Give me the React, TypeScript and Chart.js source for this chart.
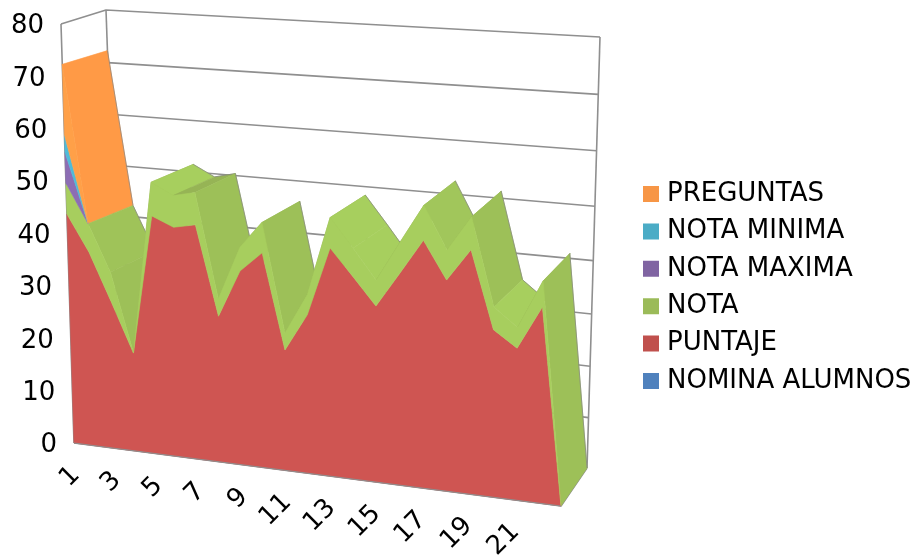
import React, { useEffect, useRef } from "react";
import { Chart, registerables } from "chart.js";

Chart.register(...registerables);

const CATEGORIES = ["1","2","3","4","5","6","7","8","9","10","11","12","13","14","15","16","17","18","19","20","21","22","23"];
const NOMINA_ALUMNOS = [0,0,0,0,0,0,0,0,0,0,0,0,0,0,0,0,0,0,0,0,0,0,0];
const PUNTAJE = [43.7,36.9,27.9,18.6,45.1,43.4,44.3,27.5,36.5,40.4,22.6,29.7,42.7,37.8,32.8,39.3,46,39.1,45.2,30.9,28,36.1,0];
const NOTA = [5.9,5.4,5.6,0.1,6.4,6,6.1,3.3,4.5,5.7,3.2,3.8,5.7,5.3,4.8,5.8,6.5,5.6,6.1,4.2,3.8,4.8,0];
const NOTA_MAXIMA = [5.9,0,0,0,0,0,0,0,0,0,0,0,0,0,0,0,0,0,0,0,0,0,0];
const NOTA_MINIMA = [3.3,0,0,0,0,0,0,0,0,0,0,0,0,0,0,0,0,0,0,0,0,0,0];
const PREGUNTAS = [13.5,0,0,0,0,0,0,0,0,0,0,0,0,0,0,0,0,0,0,0,0,0,0];

const FONT = "'DejaVu Sans'";
const FONT_SIZE = 26;
const GREY = "#8f8f8f";

// legend colour, then the lit colour of the same series on the front face
const SERIES: [string, number[], string, string][] = [
  ["NOMINA ALUMNOS", NOMINA_ALUMNOS, "#4F81BD", "#5A8FD0"],
  ["PUNTAJE", PUNTAJE, "#C0504D", "#CF5552"],
  ["NOTA", NOTA, "#9BBB59", "#A7CE5E"],
  ["NOTA MAXIMA", NOTA_MAXIMA, "#8064A2", "#8C6DB4"],
  ["NOTA MINIMA", NOTA_MINIMA, "#4BACC6", "#4FBBD8"],
  ["PREGUNTAS", PREGUNTAS, "#F79646", "#FFA048"],
];

// corners of the 3D box in the picture: [front|back][bottom|top][left|right]
type P = [number, number];
const FBL: P = [74, 443], FBR: P = [561, 506], FTL: P = [61, 24], FTR: P = [574, 71];
const BBL: P = [120, 405], BBR: P = [587, 468], BTL: P = [106, 10], BTR: P = [600, 37];
const lerp = (a: P, b: P, t: number): P => [a[0] + (b[0] - a[0]) * t, a[1] + (b[1] - a[1]) * t];

function project(u: number, v: number, d: number): P {
  const uu = u - 0.082 * u * (1 - u);
  const vv = v - d * 0.075 * v * (1 - v);
  const front = lerp(lerp(FBL, FBR, uu), lerp(FTL, FTR, uu), vv);
  const back = lerp(lerp(BBL, BBR, uu), lerp(BTL, BTR, uu), vv);
  return lerp(front, back, d);
}

function mix(a: number[], b: number[], t: number) {
  const c = a.map((x, i) => Math.round(x + (b[i] - x) * t));
  return `rgb(${c[0]},${c[1]},${c[2]})`;
}

function poly(ctx: CanvasRenderingContext2D, pts: P[], color: string) {
  ctx.beginPath();
  pts.forEach((p, i) => (i ? ctx.lineTo(p[0], p[1]) : ctx.moveTo(p[0], p[1])));
  ctx.closePath();
  ctx.fillStyle = color;
  ctx.strokeStyle = color;
  ctx.lineWidth = 0.6;
  ctx.fill();
  ctx.stroke();
}

function line(ctx: CanvasRenderingContext2D, pts: P[], color = GREY, w = 1.6) {
  ctx.beginPath();
  pts.forEach((p, i) => (i ? ctx.lineTo(p[0], p[1]) : ctx.moveTo(p[0], p[1])));
  ctx.strokeStyle = color;
  ctx.lineWidth = w;
  ctx.stroke();
}

const boxPlugin = {
  id: "box3d",
  afterLayout(chart: any) {
    const lg = chart.legend;
    lg.left = 648 - lg.options.labels.padding;
    lg.right = 917;
    lg.top = 181 - lg.options.labels.padding;
    lg.bottom = 556;
  },
  afterDatasetsUpdate(chart: any) {
    const xs = chart.scales.x, ys = chart.scales.y;
    chart.data.datasets.forEach((_: any, i: number) => {
      chart.getDatasetMeta(i).data.forEach((pt: any) => {
        const u = (pt.x - xs.left) / xs.width;
        const v = (ys.bottom - pt.y) / ys.height;
        pt.$uv = [u, v];
        const [x, y] = project(u, v, 0);
        pt.x = x;
        pt.y = y;
      });
    });
  },
  beforeDraw(chart: any) {
    const xs = chart.scales.x, ys = chart.scales.y;
    xs._computeLabelArea = () => undefined;
    ys._computeLabelArea = () => undefined;
    xs.getLabelItems(chart.chartArea).forEach((item: any, i: number) => {
      const u = xs.getPixelForTick(i);
      const p = project((u - xs.left) / xs.width, 0, 0);
      item.textOffset = 0;
      item.options.translation = [p[0] + 2, p[1] + 28];
      item.options.rotation = -Math.PI / 4;
      item.options.textAlign = "right";
      item.options.textBaseline = "middle";
    });
    ys.getLabelItems(chart.chartArea).forEach((item: any, i: number) => {
      const v = (ys.bottom - ys.getPixelForTick(i)) / ys.height;
      const p = project(0, v, 0);
      item.textOffset = 0;
      item.options.translation = [p[0] - 17, p[1] + 2.5];
      item.options.textAlign = "right";
      item.options.textBaseline = "middle";
    });
  },
  beforeDatasetsDraw(chart: any) {
    const ctx: CanvasRenderingContext2D = chart.ctx;
    const ys = chart.scales.y;
    ctx.save();
    ctx.lineJoin = "round";

    // walls, floor and grid
    ys.ticks.forEach((t: any) => {
      const v = t.value / 80;
      line(ctx, [project(0, v, 0), project(0, v, 1), project(1, v, 1)]);
    });
    line(ctx, [project(0, 0, 0), project(0, 1, 0)]);
    line(ctx, [project(0, 0, 1), project(0, 1, 1)]);
    line(ctx, [project(1, 0, 1), project(1, 1, 1)]);
    line(ctx, [project(0, 0, 0), project(1, 0, 0), project(1, 0, 1)]);

    const metas = chart.data.datasets.map((_: any, i: number) => chart.getDatasetMeta(i).data);
    const top = metas[metas.length - 1];

    // top surface, from the far side of the view to the near side
    for (let i = 0; i < top.length - 1; i++) {
      const [u0, v0] = top[i].$uv, [u1, v1] = top[i + 1].$uv;
      let owner = 0;
      SERIES.forEach((s, k) => {
        if (s[1][i] > 0 || s[1][i + 1] > 0) owner = k;
      });
      const drop = (v0 - v1) * 80;
      let color: string;
      if (owner === 5) color = "#FF9A46";
      else if (drop < 0) color = "#96B455";
      else color = mix([167, 207, 94], [157, 192, 88], Math.max(0, Math.min((drop - 5.5) / 4, 1)));
      const a = project(u0, v0, 0), b = project(u1, v1, 0), c = project(u1, v1, 1), d = project(u0, v0, 1);
      poly(ctx, [a, b, c, d], color);
      line(ctx, [d, c], "rgba(130,130,130,0.7)", 1);
    }

    // front faces of the stacked series, only as far as each one has a height
    for (let k = 1; k < metas.length; k++) {
      const vals = SERIES[k][1];
      let last = 0;
      vals.forEach((x, i) => { if (x > 0) last = i; });
      const n = Math.min(last + 2, vals.length);
      const upper: P[] = metas[k].slice(0, n).map((p: any) => [p.x, p.y]);
      const lower: P[] = metas[k - 1].slice(0, n).map((p: any) => [p.x, p.y]).reverse();
      poly(ctx, upper.concat(lower), SERIES[k][3]);
    }
    line(ctx, [project(0, 0, 0), project(1, 0, 0)], GREY, 1.2);
    ctx.restore();
  },
};

export default function App() {
  const ref = useRef<HTMLCanvasElement>(null);
  useEffect(() => {
    if (!ref.current) return;
    const chart = new Chart(ref.current, {
      type: "line",
      data: {
        labels: CATEGORIES,
        datasets: SERIES.map(([label, data, color]) => ({
          label,
          data,
          backgroundColor: color,
          borderColor: color,
          borderWidth: 0,
          pointRadius: 0,
          fill: false,
          clip: false,
        })),
      } as any,
      options: {
        responsive: false,
        animation: false,
        layout: { padding: 0 },
        plugins: {
          tooltip: { enabled: false },
          legend: {
            display: true,
            position: "right",
            align: "start",
            reverse: true,
            labels: {
              color: "#000",
              font: { family: FONT, size: FONT_SIZE },
              boxWidth: 6,
              boxHeight: 6,
              padding: 11.4,
              generateLabels: (c: any) =>
                Chart.defaults.plugins.legend.labels.generateLabels(c).map((l: any) => ({
                  ...l,
                  lineWidth: 10,
                  strokeStyle: l.fillStyle,
                })),
            },
          },
        },
        scales: {
          x: {
            stacked: true,
            grid: { display: false },
            border: { display: false },
            ticks: {
              autoSkip: false,
              minRotation: 45,
              maxRotation: 45,
              color: "#000",
              font: { family: FONT, size: FONT_SIZE },
              callback: (_: any, i: number) => (i % 2 === 0 && i < 22 ? CATEGORIES[i] : ""),
            },
          },
          y: {
            stacked: true,
            min: 0,
            max: 80,
            grid: { display: false },
            border: { display: false },
            ticks: {
              stepSize: 10,
              color: "#000",
              font: { family: FONT, size: FONT_SIZE },
            },
          },
        },
      } as any,
      plugins: [boxPlugin] as any,
    });
    return () => chart.destroy();
  }, []);
  return (
    <div style={{ position: "fixed", left: 0, top: 0, width: 917, height: 556, background: "#fff" }}>
      <canvas ref={ref} width={917} height={556} style={{ display: "block" }} />
    </div>
  );
}
